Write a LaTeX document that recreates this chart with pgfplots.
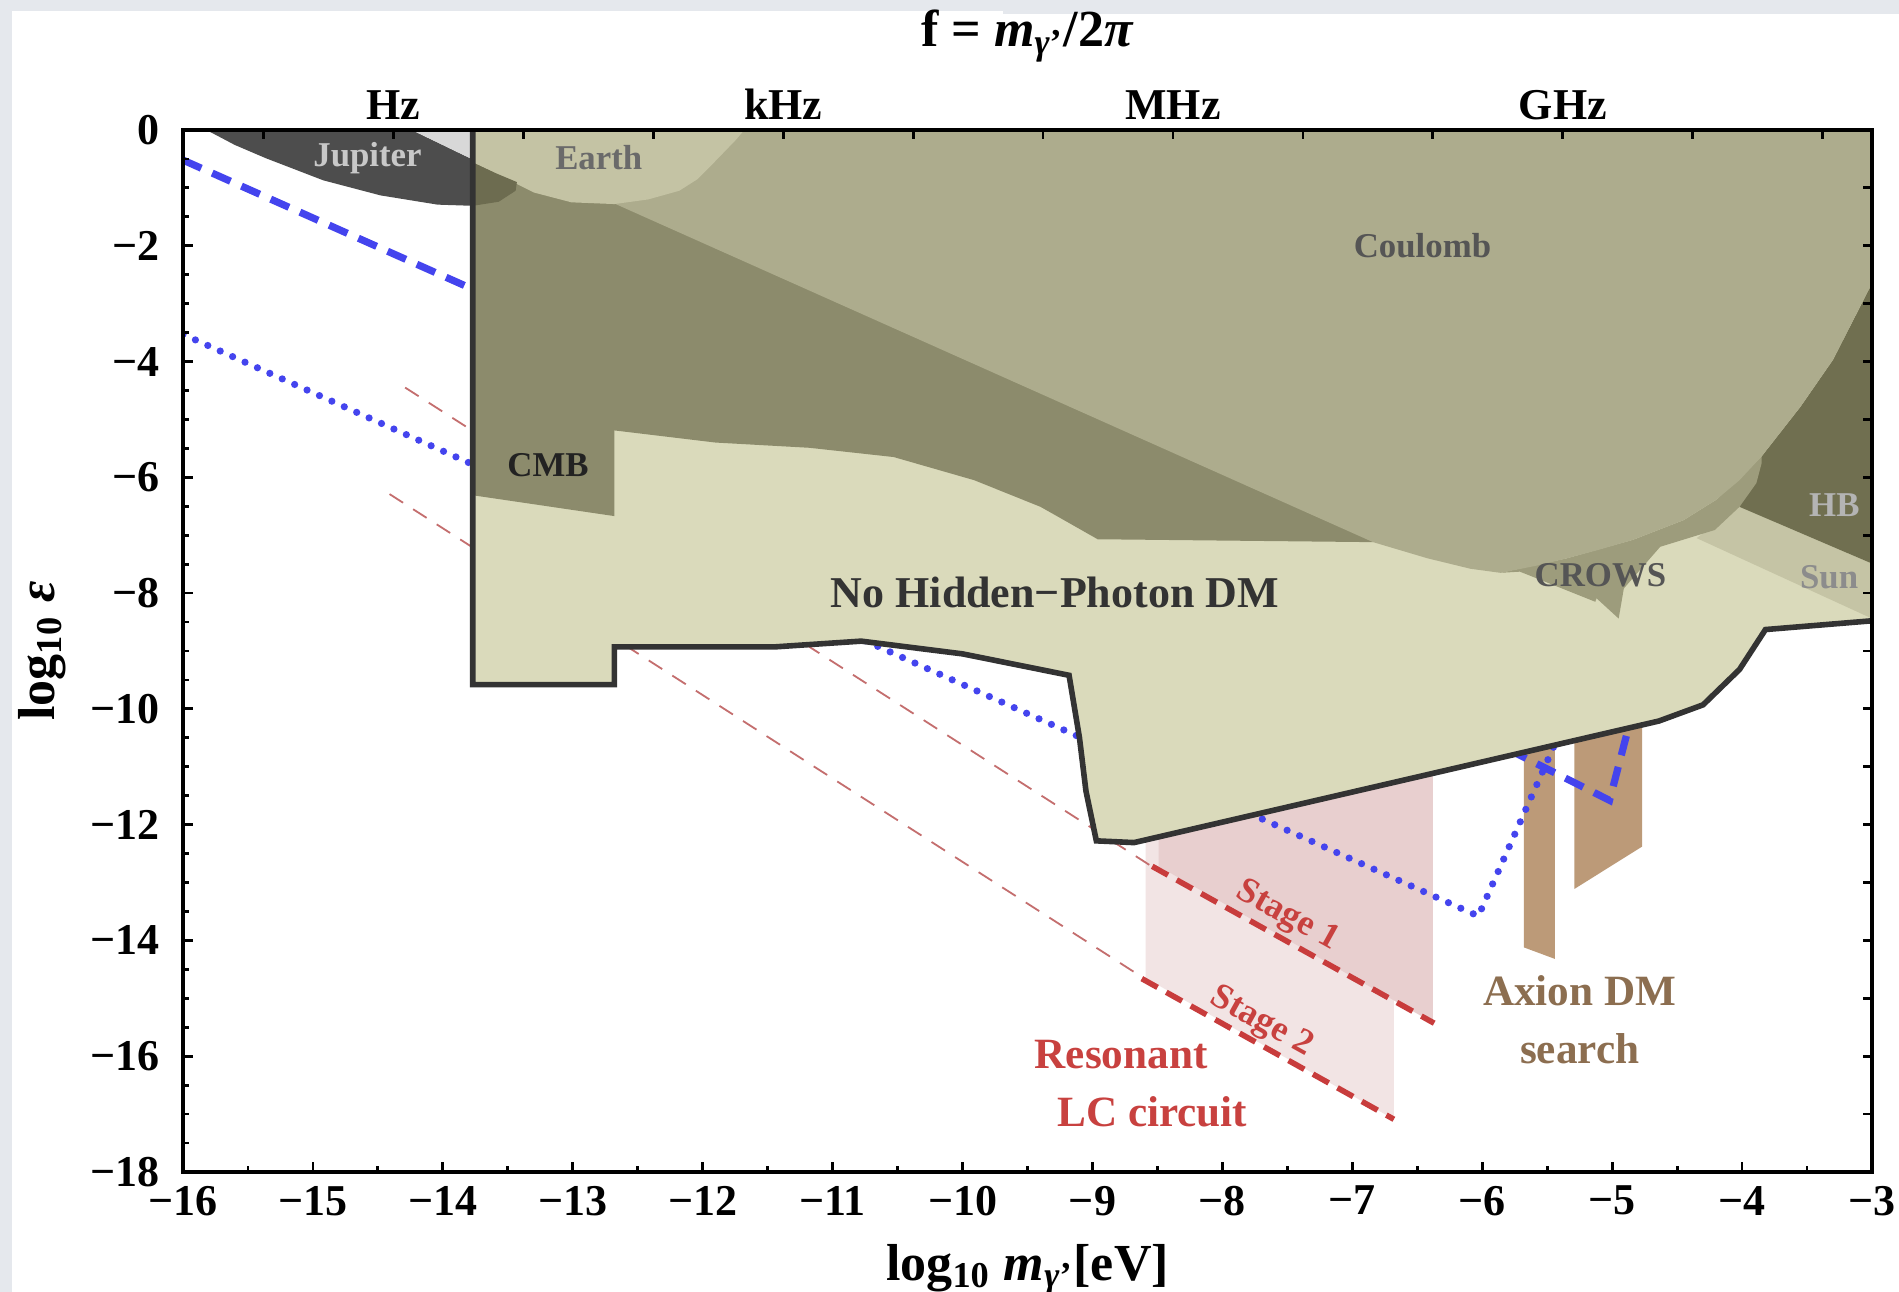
\documentclass[border=0pt]{standalone}
\usepackage{pgfplots}
\pgfplotsset{compat=1.18}
\usepackage{fontspec}
\setmainfont{Liberation Serif}
\definecolor{bgc}{RGB}{229,232,237}
\definecolor{beige}{RGB}{218,218,187}
\definecolor{cmb}{RGB}{140,139,108}
\definecolor{coul}{RGB}{173,172,141}
\definecolor{earth}{RGB}{196,195,164}
\definecolor{crows}{RGB}{157,156,124}
\definecolor{hb}{RGB}{112,111,80}
\definecolor{sun}{RGB}{197,196,165}
\definecolor{jup}{RGB}{77,77,77}
\definecolor{jupov}{RGB}{109,108,80}
\definecolor{lgray}{RGB}{216,216,216}
\definecolor{outl}{RGB}{51,51,51}
\definecolor{pinkA}{RGB}{232,207,207}
\definecolor{pinkB}{RGB}{242,228,228}
\definecolor{axbar}{RGB}{188,154,120}
\definecolor{bl}{RGB}{68,68,238}
\definecolor{rd}{RGB}{200,60,60}
\definecolor{rdthin}{RGB}{196,110,110}
\definecolor{rdtxt}{RGB}{200,65,63}
\definecolor{axtxt}{RGB}{140,110,80}
\begin{document}
\begin{tikzpicture}[x=1pt,y=1pt]
\path[use as bounding box] (0,0) rectangle (474.75,323);
\fill[bgc] (0,0) rectangle (474.75,323);
\fill[white] (3,0) rectangle (250.75,320.25);
\fill[white] (250.75,0) rectangle (474.75,319.5);
\begin{axis}[at={(45.75pt,30pt)}, anchor=south west, scale only axis,
  width=422.25pt, height=260.5pt,
  axis on top,
  xmin=-16, xmax=-3, ymin=-18, ymax=0,
  xtick={-16,-15,...,-3},
  xticklabels={−16,−15,−14,−13,−12,−11,−10,−9,−8,−7,−6,−5,−4,−3},
  ytick={-18,-16,...,0},
  yticklabels={−18,−16,−14,−12,−10,−8,−6,−4,−2,0},
  minor x tick num=1, minor y tick num=3,
  xtick pos=left, ytick pos=left,
  tick align=inside,
  major tick length=2.6pt, minor tick length=1.4pt,
  every tick/.append style={black, line width=0.7pt},
  axis line style={line width=1pt},
  ticklabel style={font=\fontsize{11}{12}\selectfont\bfseries},
  yticklabel style={xshift=-2.4pt},
  xlabel={log\textsubscript{10} \textit{m}\textsubscript{\textit{γ}'}[eV]},
  ylabel={log\textsubscript{10} \textit{ε}},
  label style={font=\fontsize{13}{14}\selectfont\bfseries},
  xlabel style={at={(axis description cs:0.5,-0.094)}, anchor=center},
  ylabel style={at={(axis description cs:-0.0835,0.5)}, anchor=center},
]
% Stage regions
\addplot[fill=pinkB, draw=none] coordinates {(-8.59,-11.6) (-8.59,-14.65) (-6.68,-17.09) (-6.68,-11.0)} -- cycle;
\addplot[fill=pinkA, draw=none] coordinates {(-8.49,-11.8) (-8.49,-12.72) (-6.38,-15.42) (-6.38,-10.9)} -- cycle;
% Axion bars
\addplot[fill=axbar, draw=none] coordinates {(-5.68,-10.3) (-5.68,-14.12) (-5.44,-14.32) (-5.44,-10.3)} -- cycle;
\addplot[fill=axbar, draw=none] coordinates {(-5.29,-10.0) (-5.29,-13.11) (-4.77,-12.38) (-4.77,-10.0)} -- cycle;
% thin red dashed
\addplot[rdthin, line width=0.45pt, dash pattern=on 4pt off 3pt] coordinates {(-14.29,-4.45) (-8.51,-12.77)};
\addplot[rdthin, line width=0.45pt, dash pattern=on 4pt off 3pt] coordinates {(-14.41,-6.29) (-8.60,-14.66)};
% blue
\addplot[bl, line width=1.8pt, dash pattern=on 5pt off 3pt] coordinates {(-16,-0.52) (-13.7,-2.82)};
\addplot[bl, line width=1.8pt, dash pattern=on 5pt off 3pt] coordinates {(-5.8,-10.7) (-5.02,-11.58) (-4.86,-10.2)};
\addplot[bl, line width=1.8pt, line cap=round, dash pattern=on 0pt off 3.4pt] coordinates {(-16,-3.53) (-6.03,-13.58) (-5.36,-10.2)};
% red stage lines
\addplot[rd, line width=1.4pt, dash pattern=on 4.5pt off 2.5pt] coordinates {(-8.54,-12.72) (-6.37,-15.43)};
\addplot[rd, line width=1.4pt, dash pattern=on 4.5pt off 2.5pt] coordinates {(-8.62,-14.66) (-6.68,-17.09)};
% Jupiter
\addplot[fill=jup, draw=none] coordinates {(-15.82,0) (-15.6,-0.26) (-15.36,-0.49) (-14.92,-0.87) (-14.48,-1.13) (-14.04,-1.29) (-13.77,-1.31) (-13.77,-0.51) (-14.24,0)} -- cycle;
\addplot[fill=lgray, draw=none] coordinates {(-14.24,0) (-13.77,-0.51) (-13.77,0)} -- cycle;
% No hidden photon DM
\addplot[fill=beige, draw=none] coordinates {(-13.77,0) (-13.77,-9.58) (-12.68,-9.58) (-12.68,-8.93) (-11.45,-8.93) (-10.78,-8.83) (-10.0,-9.05) (-9.18,-9.42) (-9.10,-10.5) (-9.05,-11.42) (-8.97,-12.28) (-8.68,-12.31) (-4.64,-10.21) (-4.3,-9.93) (-4.02,-9.32) (-3.82,-8.63) (-3,-8.48) (-3,0)} -- cycle;
% CMB
\addplot[fill=cmb, draw=none] coordinates {(-13.77,0) (-13.77,-6.31) (-12.68,-6.67) (-12.68,-5.19) (-11.90,-5.40) (-11.18,-5.49) (-10.53,-5.65) (-9.91,-6.05) (-9.40,-6.51) (-9.25,-6.70) (-8.96,-7.07) (-6.84,-7.12) (-6.84,0)} -- cycle;
% Sun
\addplot[fill=sun, draw=none] coordinates {(-4.35,-7.05) (-4.02,-6.51) (-3,-7.49) (-3,-8.44)} -- cycle;
% HB
\addplot[fill=hb, draw=none] coordinates {(-4.02,-6.51) (-3.85,-5.64) (-3.55,-4.78) (-3.30,-3.97) (-3.0,-2.65) (-3,-7.49)} -- cycle;
% CROWS
\addplot[fill=crows, draw=none] coordinates {(-5.71,-7.63) (-5.13,-8.15) (-5.12,-8.09) (-4.95,-8.44) (-4.91,-7.92) (-4.63,-7.20) (-4.21,-6.91) (-4.02,-6.51) (-3.89,-6.10) (-3.85,-5.76) (-3.85,-5.64) (-4.20,-6.39) (-4.45,-6.74) (-4.84,-7.08) (-5.35,-7.40) (-5.86,-7.65)} -- cycle;
% Coulomb
\addplot[fill=coul, draw=none] coordinates {(-12.68,0) (-12.68,-1.27) (-6.84,-7.12) (-6.42,-7.40) (-6.09,-7.58) (-5.86,-7.65) (-5.59,-7.53) (-5.35,-7.40) (-5.10,-7.25) (-4.84,-7.08) (-4.45,-6.74) (-4.20,-6.39) (-4.02,-6.05) (-3.85,-5.64) (-3.55,-4.78) (-3.30,-3.97) (-3.0,-2.65) (-3,0)} -- cycle;
% Earth
\addplot[fill=earth, draw=none] coordinates {(-13.77,0) (-13.77,-0.56) (-13.60,-0.74) (-13.45,-0.91) (-13.30,-1.08) (-13.01,-1.25) (-12.68,-1.28) (-12.42,-1.20) (-12.18,-1.05) (-12.04,-0.85) (-11.89,-0.51) (-11.74,-0.16) (-11.68,0)} -- cycle;
% Jupiter overlap
\addplot[fill=jupov, draw=none] coordinates {(-13.77,-0.56) (-13.60,-0.74) (-13.43,-0.90) (-13.44,-1.05) (-13.57,-1.24) (-13.77,-1.31)} -- cycle;
% outline
\addplot[outl, line width=1.4pt] coordinates {(-13.77,0.1) (-13.77,-9.58) (-12.68,-9.58) (-12.68,-8.93) (-11.45,-8.93) (-10.78,-8.83) (-10.0,-9.05) (-9.18,-9.42) (-9.10,-10.5) (-9.05,-11.42) (-8.97,-12.28) (-8.68,-12.31) (-4.64,-10.21) (-4.3,-9.93) (-4.02,-9.32) (-3.82,-8.63) (-2.9,-8.46)};
% labels
\node[text={rgb,255:red,200;green,200;blue,200}, font=\fontsize{8.7}{10}\selectfont\bfseries] at (axis cs:-14.58,-0.48) {Jupiter};
\node[text={rgb,255:red,106;green,106;blue,106}, font=\fontsize{8.7}{10}\selectfont\bfseries] at (axis cs:-12.80,-0.48) {Earth};
\node[text={rgb,255:red,85;green,85;blue,85}, font=\fontsize{8.7}{10}\selectfont\bfseries] at (axis cs:-6.46,-1.99) {Coulomb};
\node[text={rgb,255:red,34;green,34;blue,34}, font=\fontsize{8.7}{10}\selectfont\bfseries] at (axis cs:-13.19,-5.79) {CMB};
\node[text={rgb,255:red,51;green,51;blue,51}, font=\fontsize{11}{12}\selectfont\bfseries] at (axis cs:-9.29,-7.99) {No Hidden−Photon DM};
\node[text={rgb,255:red,85;green,85;blue,85}, font=\fontsize{8.7}{10}\selectfont\bfseries] at (axis cs:-5.09,-7.69) {CROWS};
\node[text={rgb,255:red,180;green,180;blue,180}, font=\fontsize{8.7}{10}\selectfont\bfseries] at (axis cs:-3.29,-6.48) {HB};
\node[text={rgb,255:red,140;green,140;blue,140}, font=\fontsize{8.7}{10}\selectfont\bfseries] at (axis cs:-3.33,-7.72) {Sun};
\node[text=rdtxt, rotate=-29, font=\fontsize{9}{10}\selectfont\bfseries] at (axis cs:-7.50,-13.59) {Stage 1};
\node[text=rdtxt, rotate=-29, font=\fontsize{9}{10}\selectfont\bfseries] at (axis cs:-7.70,-15.42) {Stage 2};
\node[text=rdtxt, font=\fontsize{10.8}{12}\selectfont\bfseries] at (axis cs:-8.78,-15.97) {Resonant};
\node[text=rdtxt, font=\fontsize{10.8}{12}\selectfont\bfseries] at (axis cs:-8.54,-16.96) {LC circuit};
\node[text=axtxt, font=\fontsize{10.8}{12}\selectfont\bfseries] at (axis cs:-5.25,-14.87) {Axion DM};
\node[text=axtxt, font=\fontsize{10.8}{12}\selectfont\bfseries] at (axis cs:-5.25,-15.87) {search};
\end{axis}
\begin{axis}[at={(45.75pt,30pt)}, anchor=south west, scale only axis,
  width=422.25pt, height=260.5pt, clip=false,
  xmin=-16, xmax=-3, ymin=-18, ymax=0,
  xtick={-15.38,-14.38,-13.38,-12.38,-11.38,-10.38,-9.38,-8.38,-7.38,-6.38,-5.38,-4.38,-3.38},
  xticklabels={,Hz,,,kHz,,,MHz,,,GHz,,},
  xtick pos=right, xticklabel pos=right,
  ytick={-17,-16,...,-1}, yticklabels={}, ytick pos=right, yticklabel pos=right,
  minor tick num=0,
  tick align=inside, major tick length=2.2pt,
  every tick/.append style={black, line width=0.7pt},
  axis line style={line width=1pt},
  ticklabel style={font=\fontsize{11}{12}\selectfont\bfseries},
  xticklabel style={yshift=-0.9pt},
]
\node[font=\fontsize{13}{14}\selectfont\bfseries] at (axis description cs:0.5,1.09) {f = \textit{m}\textsubscript{\textit{γ}'}/2\textit{π}};
\end{axis}
\end{tikzpicture}
\end{document}
